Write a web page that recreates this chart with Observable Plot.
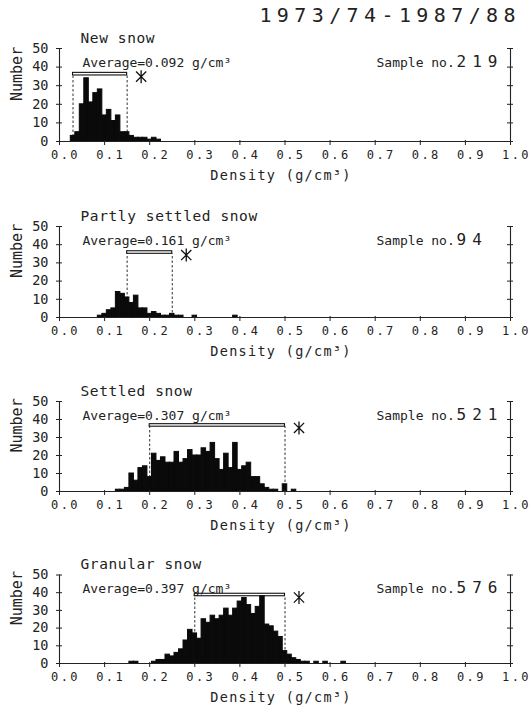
<!DOCTYPE html>
<html>
<head>
<meta charset="utf-8">
<script src="https://cdn.jsdelivr.net/npm/d3@7"></script>
<script src="https://cdn.jsdelivr.net/npm/@observablehq/plot@0.6"></script>
<style>
  body { margin: 0; background: #fff; }
  #wrap { position: relative; width: 531px; height: 714px; overflow: hidden; background: #fff; }
  #title { position: absolute; top: 5px; right: 10px; font-family: "DejaVu Sans Mono", monospace;
           font-size: 20px; line-height: 20px; letter-spacing: 5.4px; color: #222; white-space: nowrap; }
  #wrap svg { position: absolute; left: 0; display: block; }
</style>
</head>
<body>
<div id="wrap"><div id="title">1973/74-1987/88</div></div>
<script>
// ---- data ----
const panelNames = ["New snow", "Partly settled snow", "Settled snow", "Granular snow"];
const averages = ["0.092", "0.161", "0.307", "0.397"];
const sampleNos = ["219", "94", "521", "576"];
const rangeLo = [0.03, 0.15, 0.20, 0.30];
const rangeHi = [0.15, 0.25, 0.50, 0.50];
const bracketLevel = [35.5, 35, 36, 38];
// centre of first 0.01-wide density class for each panel
const firstBin = [0.03, 0.09, 0.13, 0.16];
const newSnowCounts = [3,5,20,34,21,26,28,14,17,11,14,5,5,3,2,2,2,1,2,1];
const partlySettledCounts = [1,2,4,5,14,13,11,8,12,5,5,2,3,2,1,1,2,1,1,0,0,1,0,0,0,0,0,0,0,0,1];
const settledCounts = [1,1,2,10,6,13,14,8,21,17,19,16,16,22,16,18,23,20,20,24,22,27,18,12,21,13,27,12,14,16,8,8,4,2,1,1,0,4,0,1];
const granularCounts = [1,1,0,0,0,1,2,2,5,4,6,8,13,19,17,14,25,23,27,25,27,31,27,31,35,37,33,28,32,38,22,21,18,15,7,5,3,2,1,1,0,1,0,1,0,0,0,1];
const xTicks = [0,0.1,0.2,0.3,0.4,0.5,0.6,0.7,0.8,0.9,1.0];
const yTicks = [0,10,20,30,40,50];

// ---- layout ----
const counts = [newSnowCounts, partlySettledCounts, settledCounts, granularCounts];
const layout = [
  {top: 27, h: 176, plotH: 93},
  {top: 203, h: 174, plotH: 91},
  {top: 377, h: 172, plotH: 90},
  {top: 549, h: 165, plotH: 88.5}
];
const ZERO = 114;

const asterisk = {
  draw(ctx, size) {
    const r = Math.sqrt(size / Math.PI);
    const a = r * 1.08, w = r * 0.85;
    ctx.moveTo(0, -a); ctx.lineTo(0, a);
    ctx.moveTo(-w, -w); ctx.lineTo(w, w);
    ctx.moveTo(-w, w); ctx.lineTo(w, -w);
  }
};

const wrap = document.getElementById("wrap");

panelNames.forEach((name, k) => {
  const L = layout[k];
  const bins = counts[k]
    .map((n, i) => ({c: (Math.round(firstBin[k] * 100) + i) / 100, n}))
    .filter(d => d.n > 0);
  const br = [{lo: rangeLo[k], hi: rangeHi[k], level: bracketLevel[k]}];
  const chart = Plot.plot({
    width: 531,
    height: L.h,
    marginLeft: 59,
    marginRight: 21,
    marginTop: ZERO - L.plotH,
    marginBottom: L.h - ZERO,
    x: {domain: [0, 1], axis: null},
    y: {domain: [0, 50], axis: null},
    style: {fontFamily: "'DejaVu Sans Mono', monospace", color: "#222", background: "transparent", overflow: "visible"},
    marks: [
      Plot.ruleX([br[0].lo, br[0].hi], {y1: 0, y2: br[0].level, strokeDasharray: "2.5,2", stroke: "#333", strokeWidth: 1}),
      Plot.rectY(bins, {x1: d => d.c - 0.005, x2: d => d.c + 0.005, y: "n", fill: "#0a0a0a", stroke: "#0a0a0a", strokeWidth: 1}),
      Plot.ruleY([0], {stroke: "#222", strokeWidth: 1.1}),
      Plot.ruleX([0, 1], {y1: 0, y2: 50, stroke: "#222", strokeWidth: 1.1}),
      Plot.ruleY(yTicks, {x1: 0, x2: 0, insetLeft: -3, insetRight: -3, stroke: "#222"}),
      Plot.ruleY(yTicks, {x1: 1, x2: 1, insetLeft: -3, insetRight: -3, stroke: "#222"}),
      Plot.ruleX(xTicks, {y1: 0, y2: 0, insetTop: -1, insetBottom: -4, stroke: "#222"}),
      Plot.rect(br, {x1: "lo", x2: "hi", y1: "level", y2: d => d.level + 1.4, fill: "none", stroke: "#111", strokeWidth: 1.1}),
      Plot.dot(br, {x: "hi", y: d => d.level + 0.7, dx: 14, dy: 2.5, r: 6, symbol: asterisk, stroke: "#111", strokeWidth: 1.3, fill: "none"}),
      Plot.text([name], {frameAnchor: "top-left", dx: 21, dy: -6, lineAnchor: "bottom", textAnchor: "start", fontSize: 14.5, text: d => d, fill: "#222"}),
      Plot.text([`Average=${averages[k]} g/cm³`], {frameAnchor: "top-left", dx: 23, dy: 18, lineAnchor: "bottom", textAnchor: "start", fontSize: 13, text: d => d, fill: "#222"}),
      Plot.text(["Sample no."], {frameAnchor: "top-left", dx: 317, dy: 18, lineAnchor: "bottom", textAnchor: "start", fontSize: 13, text: d => d, fill: "#222"}),
      Plot.text([sampleNos[k]], {frameAnchor: "top-left", dx: 397, dy: 18, lineAnchor: "bottom", textAnchor: "start", fontSize: 16, text: d => d, fill: "#222"}),
      Plot.text(yTicks, {x: 0, y: d => d, text: d => String(d), textAnchor: "end", dx: -11, fontSize: 13.5, fill: "#222"}),
      Plot.text(xTicks, {x: d => d, y: 0, text: d => d.toFixed(1), dx: 6, dy: 13.5, fontSize: 12, fill: "#222"}),
      Plot.text(["Number"], {frameAnchor: "left", dx: -42, dy: 6, rotate: -90, fontSize: 15, text: d => d, fill: "#222"}),
      Plot.text(["Density (g/cm³)"], {frameAnchor: "bottom", dx: -4, dy: 38, fontSize: 13.5, text: d => d, fill: "#222"})
    ]
  });
  // letter spacing of the plotter-style lettering
  d3.select(chart).selectAll("text").each(function() {
    const t = this.textContent;
    if (/^\d\.\d$/.test(t)) this.setAttribute("letter-spacing", "2.4");
    else if (t === sampleNos[k]) this.setAttribute("letter-spacing", "6");
    else if (t.startsWith("Density")) this.setAttribute("letter-spacing", "1.3");
    else if (t === name) this.setAttribute("letter-spacing", "0.6");
  });
  chart.style.top = L.top + "px";
  wrap.appendChild(chart);
});
</script>
</body>
</html>
